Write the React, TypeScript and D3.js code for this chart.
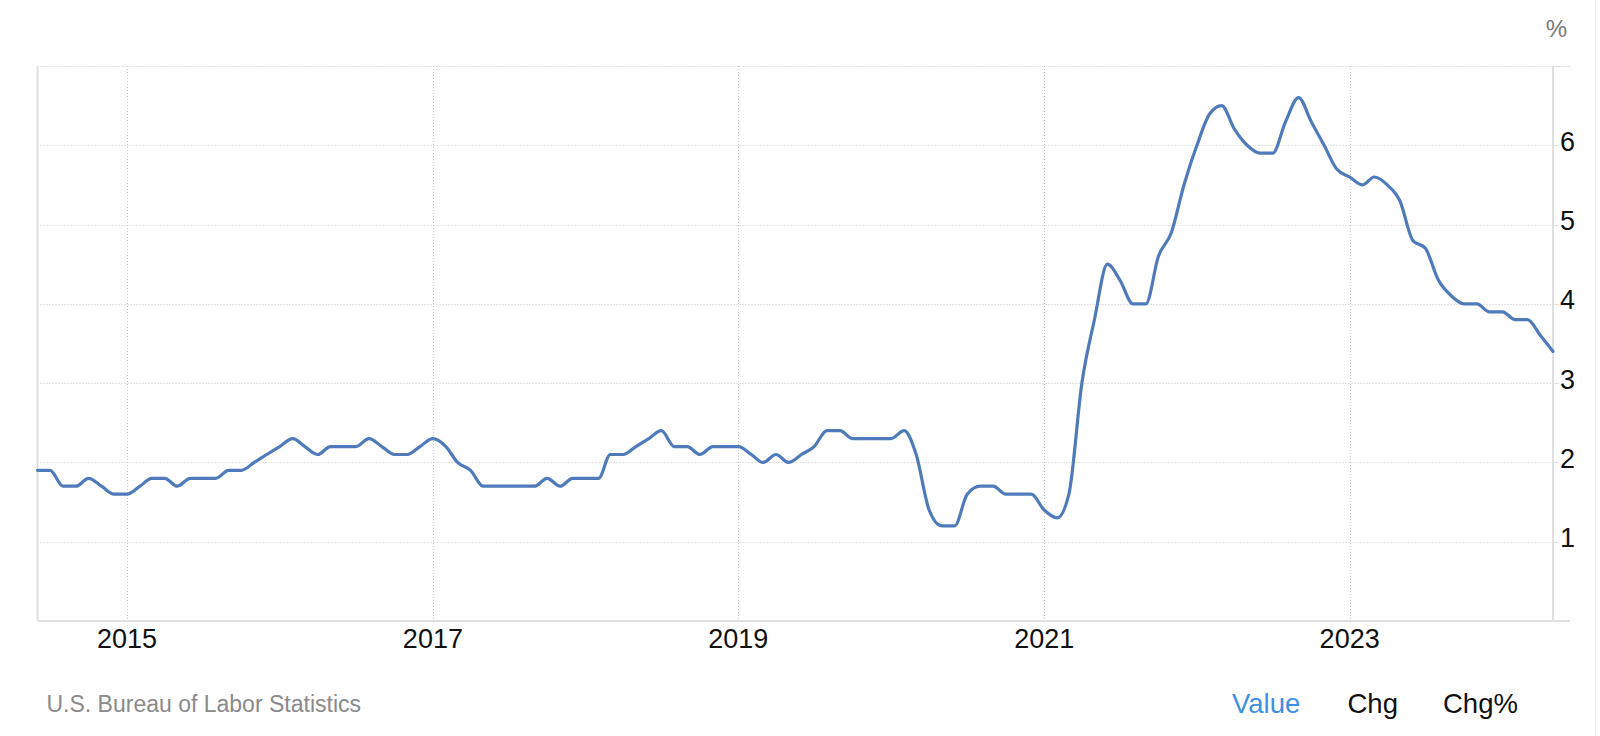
import * as d3 from 'd3';

// US core inflation rate, monthly, Jun 2014 .. May 2024
const startMonth = new Date(2014, 5, 1);
const values2014 = [1.9, 1.9, 1.7, 1.7, 1.8, 1.7, 1.6];
const values2015 = [1.6, 1.7, 1.8, 1.8, 1.7, 1.8, 1.8, 1.8, 1.9, 1.9, 2.0, 2.1];
const values2016 = [2.2, 2.3, 2.2, 2.1, 2.2, 2.2, 2.2, 2.3, 2.2, 2.1, 2.1, 2.2];
const values2017 = [2.3, 2.2, 2.0, 1.9, 1.7, 1.7, 1.7, 1.7, 1.7, 1.8, 1.7, 1.8];
const values2018 = [1.8, 1.8, 2.1, 2.1, 2.2, 2.3, 2.4, 2.2, 2.2, 2.1, 2.2, 2.2];
const values2019 = [2.2, 2.1, 2.0, 2.1, 2.0, 2.1, 2.2, 2.4, 2.4, 2.3, 2.3, 2.3];
const values2020 = [2.3, 2.4, 2.1, 1.4, 1.2, 1.2, 1.6, 1.7, 1.7, 1.6, 1.6, 1.6];
const values2021 = [1.4, 1.3, 1.6, 3.0, 3.8, 4.5, 4.3, 4.0, 4.0, 4.6, 4.9, 5.5];
const values2022 = [6.0, 6.4, 6.5, 6.2, 6.0, 5.9, 5.9, 6.3, 6.6, 6.3, 6.0, 5.7];
const values2023 = [5.6, 5.5, 5.6, 5.5, 5.3, 4.8, 4.7, 4.3, 4.1, 4.0, 4.0, 3.9];
const values2024 = [3.9, 3.8, 3.8, 3.6, 3.4];

const xTickYears = [2015, 2017, 2019, 2021, 2023];
const yTicks = [1, 2, 3, 4, 5, 6];
const yMax = 7;
const unitLabel = '%';
const sourceLabel = 'U.S. Bureau of Labor Statistics';
const buttons = ['Value', 'Chg', 'Chg%'];

const allValues = [
    ...values2014, ...values2015, ...values2016, ...values2017, ...values2018,
    ...values2019, ...values2020, ...values2021, ...values2022, ...values2023,
    ...values2024,
];
const data: [Date, number][] = allValues.map((v, i) => [d3.timeMonth.offset(startMonth, i), v]);

const WIDTH = 1600,
    HEIGHT = 736;
const BOUNDS = { left: 37.5, right: 1553, top: 66, bottom: 621 };
const FONT = '"Liberation Sans", Arial, Helvetica, sans-serif';
const GRID = '#c6c6c6';
const AXIS = '#e0e0e0';
const LINE = '#4f7bbb';

export default function App() {
    const xScale = d3
        .scaleTime()
        .domain([data[0][0], data[data.length - 1][0]])
        .range([BOUNDS.left, BOUNDS.right]);
    const yScale = d3.scaleLinear().domain([0, yMax]).range([BOUNDS.bottom, BOUNDS.top]);

    const linePath = d3
        .line<[Date, number]>()
        .x((d) => xScale(d[0]))
        .y((d) => yScale(d[1]))
        .curve(d3.curveMonotoneX)(data);

    const buttonX = [1232, 1347.5, 1443];

    return (
        <svg
            width={WIDTH}
            height={HEIGHT}
            style={{ position: 'absolute', left: 0, top: 0, background: '#fff' }}
            fontFamily={FONT}
        >
            {/* container edge */}
            <line x1={1595.5} x2={1595.5} y1={0} y2={HEIGHT} stroke="#efefef" strokeWidth={1} />

            {/* grid */}
            {[...yTicks, yMax].map((t) => (
                <line
                    key={'gy' + t}
                    x1={BOUNDS.left}
                    x2={BOUNDS.right}
                    y1={Math.round(yScale(t)) + 0.5}
                    y2={Math.round(yScale(t)) + 0.5}
                    stroke={GRID}
                    strokeDasharray="1,2"
                />
            ))}
            {xTickYears.map((yr) => {
                const x = Math.round(xScale(new Date(yr, 0, 1))) + 0.5;
                return (
                    <line
                        key={'gx' + yr}
                        x1={x}
                        x2={x}
                        y1={BOUNDS.top}
                        y2={BOUNDS.bottom}
                        stroke={GRID}
                        strokeDasharray="1,2"
                    />
                );
            })}

            {/* axes */}
            <line x1={BOUNDS.left} x2={BOUNDS.left} y1={BOUNDS.top} y2={BOUNDS.bottom} stroke={AXIS} strokeWidth={2} />
            <line x1={BOUNDS.right} x2={BOUNDS.right} y1={BOUNDS.top} y2={BOUNDS.bottom} stroke={AXIS} strokeWidth={2} />
            <line x1={BOUNDS.left} x2={BOUNDS.right + 17} y1={BOUNDS.bottom} y2={BOUNDS.bottom} stroke={AXIS} strokeWidth={2} />
            <line x1={BOUNDS.right} x2={BOUNDS.right + 17} y1={BOUNDS.top + 0.5} y2={BOUNDS.top + 0.5} stroke={AXIS} strokeWidth={1} />
            {yTicks.map((t) => (
                <line
                    key={'tk' + t}
                    x1={BOUNDS.right}
                    x2={BOUNDS.right + 6}
                    y1={Math.round(yScale(t)) + 0.5}
                    y2={Math.round(yScale(t)) + 0.5}
                    stroke={AXIS}
                />
            ))}

            {/* series */}
            <path d={linePath ?? ''} fill="none" stroke={LINE} strokeWidth={3.2} strokeLinejoin="round" strokeLinecap="round" />

            {/* y labels */}
            {yTicks.map((t) => (
                <text key={'yl' + t} x={1560} y={yScale(t) + 5.5} fontSize={27} fill="#111">
                    {t}
                </text>
            ))}
            <text x={1567} y={36.5} fontSize={24} fill="#7a7a7a" textAnchor="end">
                {unitLabel}
            </text>

            {/* x labels */}
            {xTickYears.map((yr) => (
                <text
                    key={'xl' + yr}
                    x={xScale(new Date(yr, 0, 1))}
                    y={648}
                    fontSize={27}
                    fill="#111"
                    textAnchor="middle"
                >
                    {yr}
                </text>
            ))}

            {/* footer */}
            <text x={46.5} y={712} fontSize={23} fill="#8a8a8a">
                {sourceLabel}
            </text>
            {buttons.map((b, i) => (
                <text key={b} x={buttonX[i]} y={712.5} fontSize={27.5} fill={i === 0 ? '#3f8fe6' : '#111'}>
                    {b}
                </text>
            ))}
        </svg>
    );
}
